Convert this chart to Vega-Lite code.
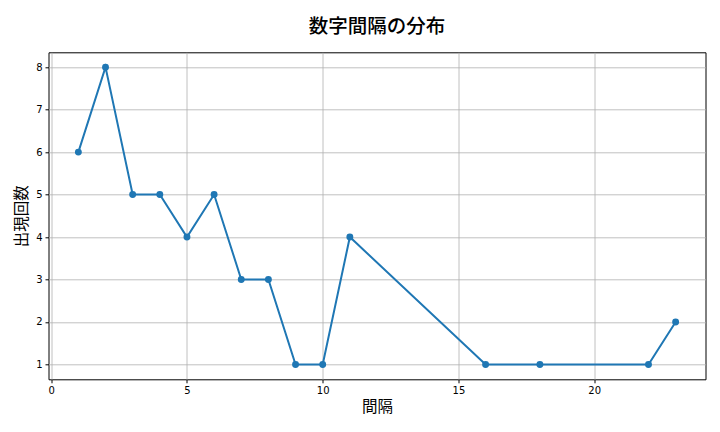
{
  "$schema": "https://vega.github.io/schema/vega-lite/v6.json",
  "width": 657,
  "height": 327,
  "autosize": {"type": "none"},
  "padding": {"left": 48.5, "top": 52.3, "right": 14.5, "bottom": 52.7},
  "background": "white",
  "title": {
    "text": "数字間隔の分布",
    "font": "Noto Sans CJK JP",
    "fontSize": 19.5,
    "fontWeight": 500,
    "color": "#000000",
    "anchor": "middle",
    "offset": 15
  },
  "data": {
    "values": [
      {"interval": 1, "count": 6},
      {"interval": 2, "count": 8},
      {"interval": 3, "count": 5},
      {"interval": 4, "count": 5},
      {"interval": 5, "count": 4},
      {"interval": 6, "count": 5},
      {"interval": 7, "count": 3},
      {"interval": 8, "count": 3},
      {"interval": 9, "count": 1},
      {"interval": 10, "count": 1},
      {"interval": 11, "count": 4},
      {"interval": 16, "count": 1},
      {"interval": 18, "count": 1},
      {"interval": 22, "count": 1},
      {"interval": 23, "count": 2}
    ]
  },
  "config": {
    "view": {"stroke": "#000000", "strokeWidth": 1},
    "axis": {
      "grid": true,
      "gridColor": "#b0b0b0",
      "gridWidth": 0.8,
      "domain": false,
      "tickColor": "#000000",
      "tickSize": 3.5,
      "labelFont": "DejaVu Sans",
      "labelFontSize": 10,
      "labelColor": "#000000",
      "labelPadding": 3,
      "titleFont": "Noto Sans CJK JP",
      "titleFontSize": 15.5,
      "titleFontWeight": "normal",
      "titleColor": "#000000"
    }
  },
  "encoding": {
    "x": {
      "field": "interval",
      "type": "quantitative",
      "title": "間隔",
      "scale": {"domain": [-0.1, 24.1], "nice": false, "zero": false},
      "axis": {"values": [0, 5, 10, 15, 20], "titlePadding": 4}
    },
    "y": {
      "field": "count",
      "type": "quantitative",
      "title": "出現回数",
      "scale": {"domain": [0.65, 8.35], "nice": false, "zero": false},
      "axis": {"values": [1, 2, 3, 4, 5, 6, 7, 8], "titlePadding": 6}
    }
  },
  "layer": [
    {
      "mark": {"type": "line", "color": "#1f77b4", "strokeWidth": 2, "clip": true}
    },
    {
      "mark": {"type": "point", "filled": true, "color": "#1f77b4", "size": 48, "opacity": 1}
    }
  ]
}
